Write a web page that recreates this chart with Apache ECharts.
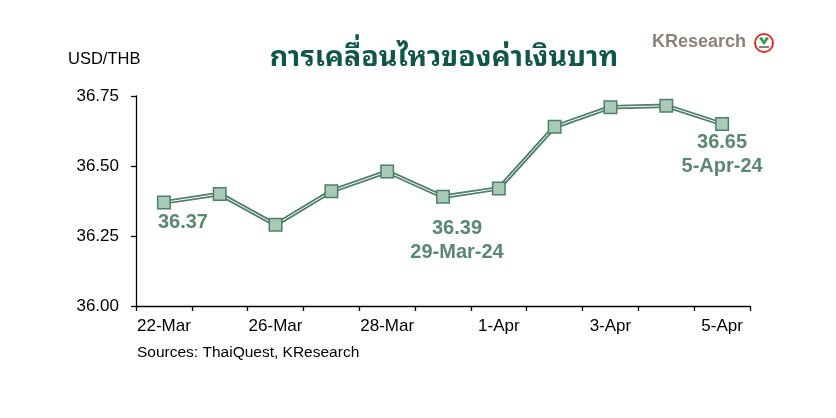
<!DOCTYPE html>
<html>
<head>
<meta charset="utf-8">
<script src="https://cdn.jsdelivr.net/npm/echarts@6/dist/echarts.min.js"></script>
<style>html,body{margin:0;padding:0;background:#fff;}#c{width:836px;height:418px;}</style>
</head>
<body>
<div id="c"></div>
<script>
const categories = ['22-Mar','25-Mar','26-Mar','27-Mar','28-Mar','29-Mar','1-Apr','2-Apr','3-Apr','4-Apr','5-Apr'];
const usdthb = [36.37, 36.40, 36.29, 36.41, 36.48, 36.39, 36.42, 36.64, 36.71, 36.715, 36.65];
const yTicks = [36.00, 36.25, 36.50, 36.75];
const annotatedIdx = [0, 5, 10];
const titleText = 'การเคลื่อนไหวของค่าเงินบาท';
const unitText = 'USD/THB';
const sourceText = 'Sources: ThaiQuest, KResearch';

const dark = '#4e7f68';
const labelColor = '#5a8872';
const fontFam = '"Liberation Sans", Arial, sans-serif';

const labelOffsets = {0: [19, -4], 5: [14, 8], 10: [0, -6]};
const symbolData = usdthb.map((v, i) => {
  if (annotatedIdx.indexOf(i) < 0) return v;
  const txt = i === 0 ? v.toFixed(2) : v.toFixed(2) + '\n' + categories[i] + '-24';
  return {
    value: v,
    label: {
      show: true, position: 'bottom', offset: labelOffsets[i],
      formatter: txt, color: labelColor, fontSize: 20, fontWeight: 'bold',
      fontFamily: fontFam, lineHeight: 24, align: 'center'
    }
  };
});

const chart = echarts.init(document.getElementById('c'), null, {renderer: 'canvas'});
chart.setOption({
  animation: false,
  backgroundColor: '#fff',
  grid: {left: 136, right: 86, top: 96, bottom: 112, containLabel: false},
  title: {
    text: titleText, left: 439, top: 38, textAlign: 'center',
    textStyle: {color: '#10574a', fontSize: 28.5, fontWeight: 'bold', fontFamily: '"Noto Sans Thai Looped","Loma","Garuda","Noto Sans Thai","Noto Sans","DejaVu Sans",sans-serif'}
  },
  graphic: [
    {type: 'text', left: 68, top: 51, style: {text: unitText, fill: '#000', font: '16.5px ' + fontFam}},
    {type: 'text', left: 137, top: 345, style: {text: sourceText, fill: '#000', font: '15.5px ' + fontFam}},
    {type: 'text', left: 652, top: 33, style: {text: 'KResearch', fill: '#8c8178', font: 'bold 18px ' + fontFam}},
    {type: 'circle', shape: {cx: 764, cy: 43, r: 9}, style: {fill: '#fff', stroke: '#d8342c', lineWidth: 2}},
    {type: 'polygon', shape: {points: [[759,38],[764,45],[769,38],[766,37],[764,41],[762,37]]}, style: {fill: '#2e9a48'}},
    {type: 'rect', shape: {x: 759, y: 46, width: 10, height: 2}, style: {fill: '#8c8178'}}
  ],
  xAxis: {
    type: 'category', data: categories, boundaryGap: true,
    axisLine: {lineStyle: {color: '#000', width: 1.3}},
    axisTick: {show: true, interval: 0, length: 5, lineStyle: {color: '#000', width: 1.3}},
    axisLabel: {interval: 1, color: '#000', fontSize: 17, fontFamily: fontFam, margin: 12},
    splitLine: {show: false}
  },
  yAxis: {
    type: 'value', min: 36.00, max: 36.75, interval: 0.25,
    axisLine: {show: true, lineStyle: {color: '#000', width: 1.3}},
    axisTick: {show: true, length: 5, lineStyle: {color: '#000', width: 1.3}},
    axisLabel: {color: '#000', fontSize: 17, fontFamily: fontFam, margin: 17,
      formatter: v => yTicks.find(t => Math.abs(t - v) < 1e-6) !== undefined ? v.toFixed(2) : ''},
    splitLine: {show: false}
  },
  series: [
    {type: 'line', data: usdthb, showSymbol: false, symbol: 'none', z: 2,
      lineStyle: {color: dark, width: 4.4}},
    {type: 'line', data: usdthb, showSymbol: false, symbol: 'none', z: 3,
      lineStyle: {color: '#ffffff', width: 1}},
    {type: 'line', data: symbolData, symbol: 'rect', symbolSize: 12.5, z: 4,
      lineStyle: {opacity: 0, width: 0},
      itemStyle: {color: '#a9cab9', borderColor: dark, borderWidth: 1.5}}
  ]
});
</script>
</body>
</html>
